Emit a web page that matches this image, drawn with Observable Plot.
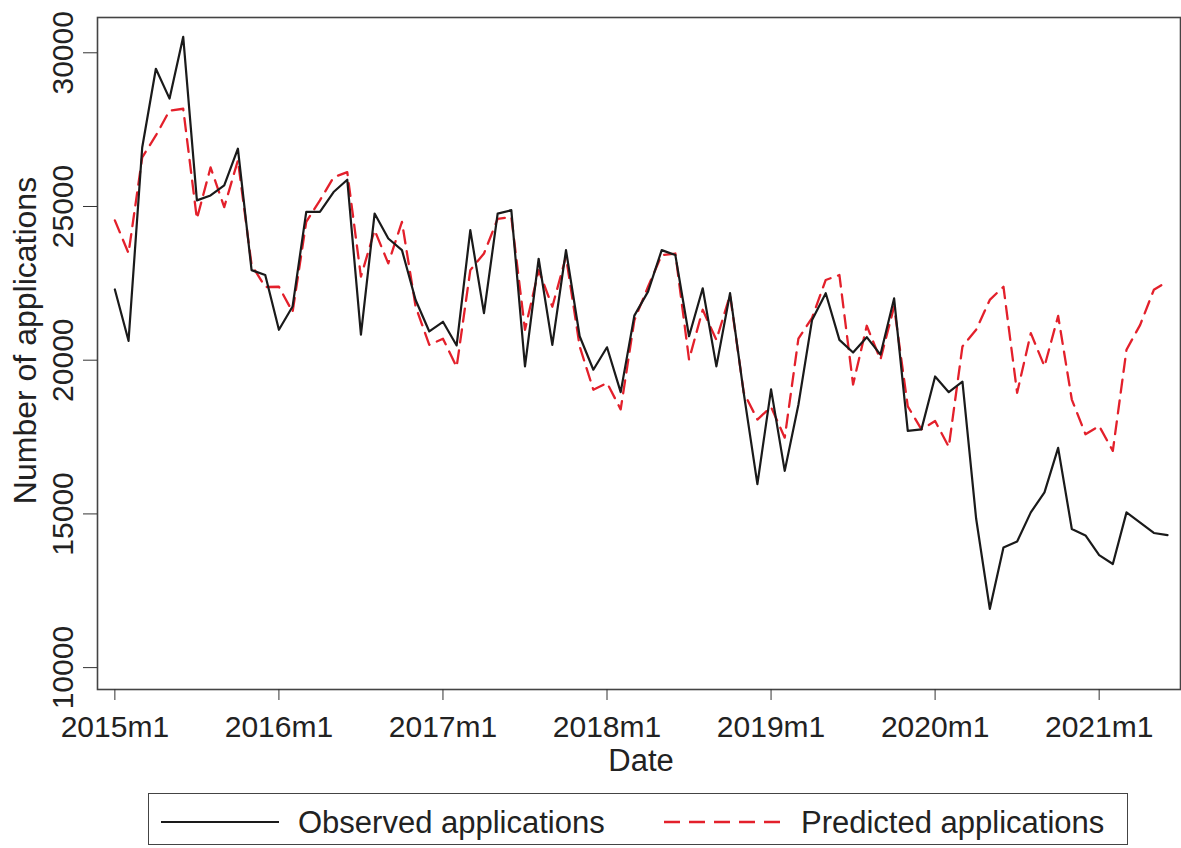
<!DOCTYPE html>
<html>
<head>
<meta charset="utf-8">
<script src="https://cdn.jsdelivr.net/npm/d3@7"></script>
<script src="https://cdn.jsdelivr.net/npm/@observablehq/plot@0.6"></script>
<style>
  html, body { margin: 0; padding: 0; background: #fff; }
  body { width: 1181px; height: 848px; position: relative; overflow: hidden; font-family: "Liberation Sans", Arial, sans-serif; }
  #legend { position: absolute; left: 148px; top: 793px; width: 980px; height: 52px; border: 1.5px solid #444; box-sizing: border-box; }
  #legend svg { position: absolute; left: 0; top: 0; }
</style>
</head>
<body>
<div id="chart"></div>
<div id="legend"></div>
<script>
// Monthly series, 2015m1 .. 2021m6
const startYear = 2015;
const observed = [
  22300, 20630, 26920, 29480, 28510, 30520, 25200, 25360, 25690, 26880, 22930, 22770,
  20990, 21745, 24825, 24825, 25470, 25870, 20830, 24770, 23960, 23580, 21960, 20935,
  21250, 20480, 24230, 21530, 24770, 24880, 19800, 23300, 20500, 23580, 20780, 19690,
  20420, 18960, 21450, 22230, 23580, 23420, 20780, 22340, 19800, 22180, 18940, 15970,
  19050, 16400, 18550, 21310, 22180, 20660, 20250, 20750, 20180, 22010, 17700, 17750,
  19470, 18960, 19300, 14850, 11910, 13910, 14100, 15050, 15700, 17150, 14510, 14300,
  13660, 13370, 15050, 14720, 14380, 14310
];
const predicted = [
  24550, 23480, 26600, 27310, 28120, 28180, 24600, 26270, 24980, 26500, 23100, 22380,
  22390, 21570, 24500, 25200, 25950, 26120, 22720, 24230, 23150, 24500, 21745, 20500,
  20700, 19780, 22930, 23470, 24600, 24660, 20990, 22930, 21740, 23370, 20450, 19040,
  19260, 18400, 21300, 22390, 23420, 23470, 20020, 21640, 20660, 22120, 18950, 18070,
  18480, 17480, 20700, 21380, 22610, 22770, 19210, 21120, 20020, 21740, 18500, 17750,
  18020, 17180, 20450, 20990, 21960, 22390, 18940, 20880, 19800, 21440, 18720, 17590,
  17860, 17050, 20340, 21150, 22290, 22560
];
const xTickMonths = [0, 12, 24, 36, 48, 60, 72];
const xTickLabels = ["2015m1", "2016m1", "2017m1", "2018m1", "2019m1", "2020m1", "2021m1"];
const yTicks = [10000, 15000, 20000, 25000, 30000];
const seriesNames = ["Observed applications", "Predicted applications"];

const rows = [];
observed.forEach((v, i) => rows.push({m: i, v, s: seriesNames[0]}));
predicted.forEach((v, i) => rows.push({m: i, v, s: seriesNames[1]}));
const obsRows = rows.filter(d => d.s === seriesNames[0]);
const predRows = rows.filter(d => d.s === seriesNames[1]);

const font = '"Liberation Sans", Arial, sans-serif';
const RED = "#e3202b";

const chart = Plot.plot({
  width: 1181,
  height: 780,
  marginLeft: 97,
  marginRight: 1,
  marginTop: 17,
  marginBottom: 91,
  style: {fontFamily: font, fontSize: "30px", color: "#222", background: "#fff"},
  x: {domain: [-1.27, 77.95]},
  y: {domain: [9288, 31148]},
  marks: [
    Plot.frame({stroke: "#444", strokeWidth: 1.6}),
    Plot.axisX({
      ticks: xTickMonths, tickSize: 11, tickPadding: 15, label: null,
      tickFormat: m => xTickLabels[xTickMonths.indexOf(m)], stroke: "#333", fill: "#222"
    }),
    Plot.axisY({
      ticks: yTicks, tickSize: 14, tickPadding: 11, tickRotate: -90, label: null,
      tickFormat: d => String(d), stroke: "#333", fill: "#222"
    }),
    Plot.text(["Number of applications"], {
      frameAnchor: "left", rotate: -90, lineAnchor: "bottom", textAnchor: "middle",
      dx: -62, dy: -13, fontSize: 32, fill: "#222"
    }),
    Plot.text(["Date"], {
      frameAnchor: "bottom", lineAnchor: "top", textAnchor: "middle",
      dy: 59, dx: 2, fontSize: 31, fill: "#222"
    }),
    Plot.line(predRows, {x: "m", y: "v", stroke: RED, strokeWidth: 2.3, strokeDasharray: "13,8"}),
    Plot.line(obsRows, {x: "m", y: "v", stroke: "#1a1a1a", strokeWidth: 2.2})
  ]
});
document.getElementById("chart").appendChild(chart);

// Legend below the SVG
const lg = d3.select("#legend").append("svg").attr("width", 980).attr("height", 52);
lg.append("line").attr("x1", 12).attr("x2", 130).attr("y1", 28).attr("y2", 28)
  .attr("stroke", "#1a1a1a").attr("stroke-width", 2.2);
lg.append("text").attr("x", 149).attr("y", 28).attr("dy", "0.35em")
  .attr("font-family", font).attr("font-size", 31).attr("fill", "#222").text(seriesNames[0]);
lg.append("line").attr("x1", 515).attr("x2", 637).attr("y1", 28).attr("y2", 28)
  .attr("stroke", RED).attr("stroke-width", 2.3).attr("stroke-dasharray", "16,9");
lg.append("text").attr("x", 652).attr("y", 28).attr("dy", "0.35em")
  .attr("font-family", font).attr("font-size", 31).attr("fill", "#222").text(seriesNames[1]);
</script>
</body>
</html>
